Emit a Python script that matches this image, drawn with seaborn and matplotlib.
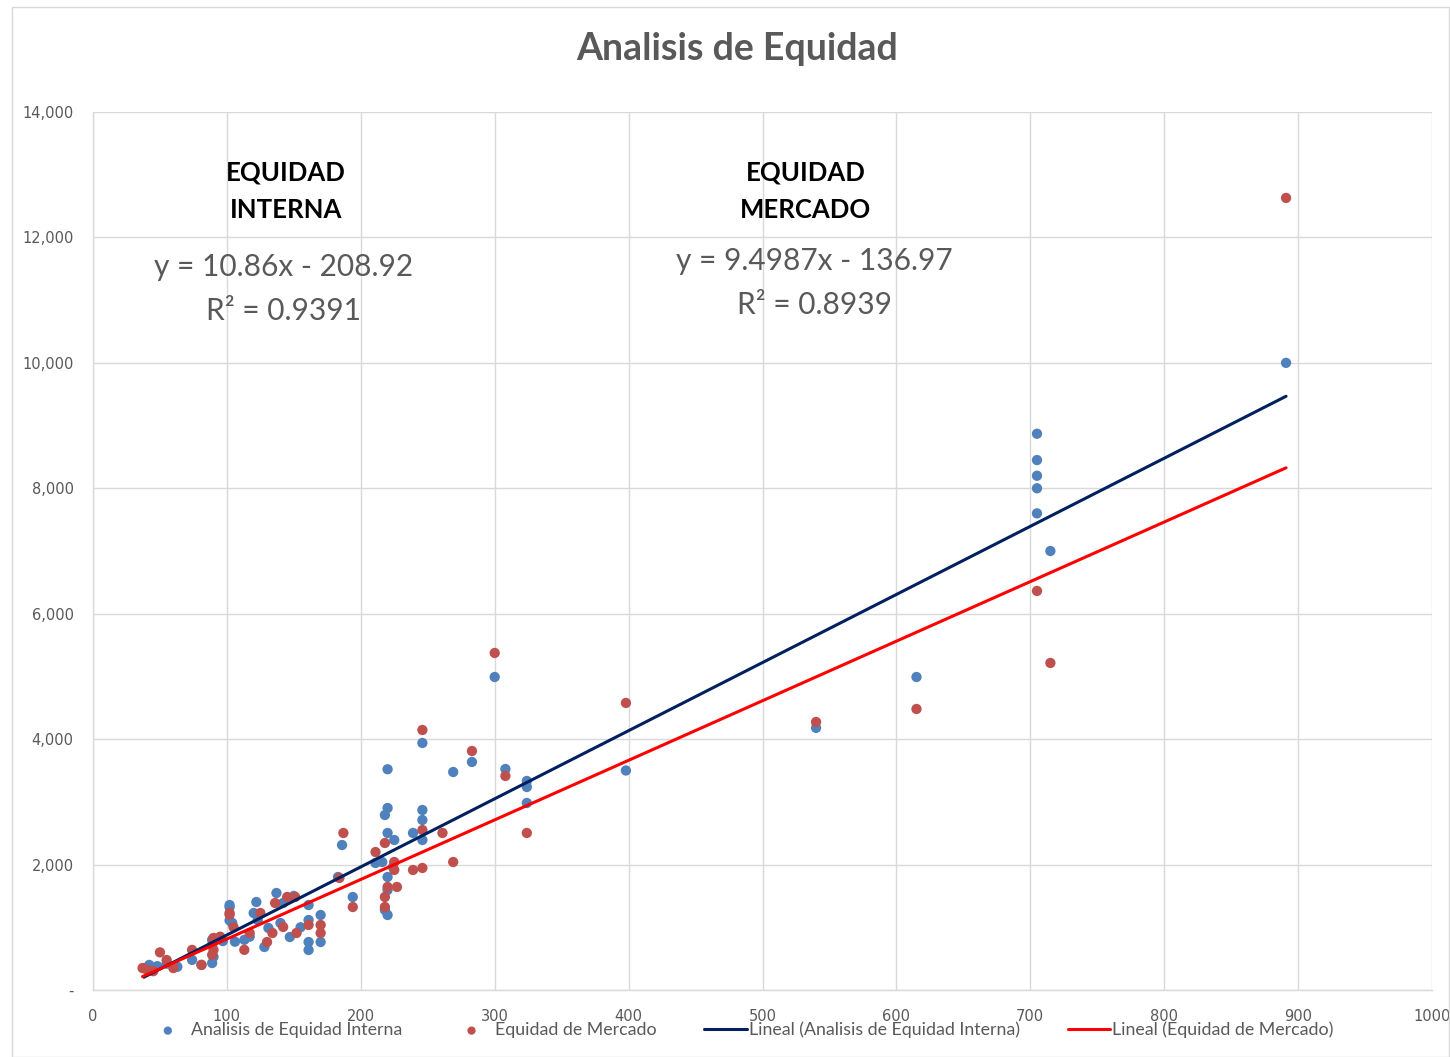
import matplotlib
matplotlib.use("Agg")
import matplotlib.pyplot as plt
import matplotlib.ticker as mticker
from matplotlib.patches import Rectangle
import numpy as np
import pandas as pd
import seaborn as sns

# Data
interna_x = [38, 42, 48, 55, 63, 74, 81, 89, 89, 90, 97,
             102, 102, 102, 104, 106, 113, 117,
             120, 122, 123, 128, 131, 137, 140, 142, 147, 150, 155,
             161, 161, 161, 161, 170, 170,
             183, 186, 194, 211, 216, 218, 218, 220, 220, 220, 220, 220, 220, 224, 225, 239,
             246, 246, 246, 246, 269, 283, 300, 308, 324, 324, 324,
             398, 540, 615, 705, 705, 705, 705, 705, 715, 891]
interna_y = [350, 400, 380, 420, 370, 480, 400, 430, 800, 530, 780,
             1355, 1320, 1110, 1068, 770, 800, 850,
             1228, 1403, 1116, 686, 989, 1547, 1068, 1387, 845, 1500, 1000,
             1355, 1116, 765, 638, 1196, 765,
             1802, 2312, 1483, 2025, 2041, 2790, 1276, 3520, 2902, 2504, 1802, 1595, 1196, 1960, 2392, 2504,
             3939, 2870, 2711, 2392, 3476, 3636, 4991, 3524, 3333, 3237, 2982,
             3500, 4180, 4991, 8870, 8450, 8200, 8000, 7600, 7000, 10000]

mercado_x = [37, 40, 45, 50, 55, 60, 74, 81, 89, 89, 90, 90, 95,
             102, 102, 105, 113, 117, 125, 130, 134, 136, 142, 145, 151, 152,
             161, 170, 170,
             184, 187, 194, 211, 218, 218, 218, 220, 225, 225, 227, 239, 246, 246, 246,
             261, 269, 283, 300, 308, 324,
             398, 540, 615, 705, 715, 891]
mercado_y = [350, 330, 300, 600, 478, 350, 640, 400, 560, 720, 830, 640, 850,
             1228, 1200, 1000, 640, 909, 1228, 765, 909, 1387, 1005, 1483, 1483, 909,
             1037, 1037, 909,
             1786, 2504, 1323, 2200, 2344, 1483, 1323, 1643, 2041, 1914, 1643, 1914, 4146, 2551, 1946,
             2504, 2041, 3811, 5374, 3413, 2504,
             4577, 4274, 4481, 6363, 5215, 12630]

# Trend line coefficients shown on the chart
interna_fit = (10.86, -208.92)
mercado_fit = (9.4987, -136.97)

df_int = pd.DataFrame({"x": interna_x, "y": interna_y})
df_mer = pd.DataFrame({"x": mercado_x, "y": mercado_y})

def trend(df, fit):
    xs = np.array([df["x"].min(), df["x"].max()])
    return pd.DataFrame({"x": xs, "y": fit[0] * xs + fit[1]})

sns.set_style("white")
plt.rcParams["font.family"] = ["Lato", "DejaVu Sans"]

gray = "#595959"
blue = "#4F81BD"
red = "#C0504D"

fig = plt.figure(figsize=(14.5, 10.57), dpi=100)
ax = fig.add_axes([93 / 1450, 67 / 1057, 1339 / 1450, 878 / 1057])

# Outer chart border
fig.patches.append(Rectangle((12 / 1450, 0.0), 1437 / 1450, 1 - 7 / 1057,
                             transform=fig.transFigure, fill=False,
                             edgecolor="#d9d9d9", linewidth=1))

sns.scatterplot(data=df_int, x="x", y="y", ax=ax, color=blue, s=55,
                edgecolor="none", label="Analisis de Equidad Interna", zorder=3)
sns.scatterplot(data=df_mer, x="x", y="y", ax=ax, color=red, s=55,
                edgecolor="none", label="Equidad de Mercado", zorder=3)
sns.lineplot(data=trend(df_int, interna_fit), x="x", y="y", ax=ax, color="#002060",
             linewidth=2.2, label="Lineal (Analisis de Equidad Interna)", zorder=4)
sns.lineplot(data=trend(df_mer, mercado_fit), x="x", y="y", ax=ax, color="#FF0000",
             linewidth=2.2, label="Lineal (Equidad de Mercado)", zorder=4)

ax.set_xlim(0, 1000)
ax.set_ylim(0, 14000)
ax.set_xticks(range(0, 1001, 100))
ax.set_yticks(range(0, 14001, 2000))
ax.yaxis.set_major_formatter(mticker.FuncFormatter(lambda v, p: "-" if v == 0 else f"{int(v):,}"))
ax.tick_params(axis="both", length=0, labelcolor=gray)
ax.tick_params(axis="y", pad=14, labelsize=10.5)
ax.tick_params(axis="x", pad=14, labelsize=10.5)
for lbl in ax.get_xticklabels() + ax.get_yticklabels():
    lbl.set_fontfamily("DejaVu Sans")
ax.set_xlabel("")
ax.set_ylabel("")
ax.grid(True, color="#d9d9d9", linewidth=1)
ax.set_axisbelow(True)
for side in ["top", "right"]:
    ax.spines[side].set_visible(False)
for side in ["left", "bottom"]:
    ax.spines[side].set_color("#d9d9d9")
    ax.spines[side].set_linewidth(1)

# Title and annotations
fig.text(737 / 1450, 1 - 49 / 1057, "Analisis de Equidad", ha="center", va="center",
         fontsize=27, fontweight="bold", color=gray)
ax.text(144, 12740, "EQUIDAD\nINTERNA", ha="center", va="center", fontsize=18.5,
        fontweight="bold", color="black", linespacing=1.65)
ax.text(142, 11180, "y = 10.86x - 208.92\nR² = 0.9391", ha="center", va="center",
        fontsize=21.5, color=gray, linespacing=1.7)
ax.text(532, 12740, "EQUIDAD\nMERCADO", ha="center", va="center", fontsize=18.5,
        fontweight="bold", color="black", linespacing=1.65)
ax.text(539, 11280, "y = 9.4987x - 136.97\nR² = 0.8939", ha="center", va="center",
        fontsize=21.5, color=gray, linespacing=1.7)

# Legend below the plot
handles, labels = ax.get_legend_handles_labels()
ax.legend_.remove()
fig.legend(handles, labels, loc="center", bbox_to_anchor=(740 / 1450, 1 - 1030 / 1057),
           ncol=4, frameon=False, fontsize=12.8, labelcolor=gray, handlelength=2.4,
           handletextpad=0.1, columnspacing=2.7, markerscale=0.8)

fig.savefig("out.png", dpi=100)
